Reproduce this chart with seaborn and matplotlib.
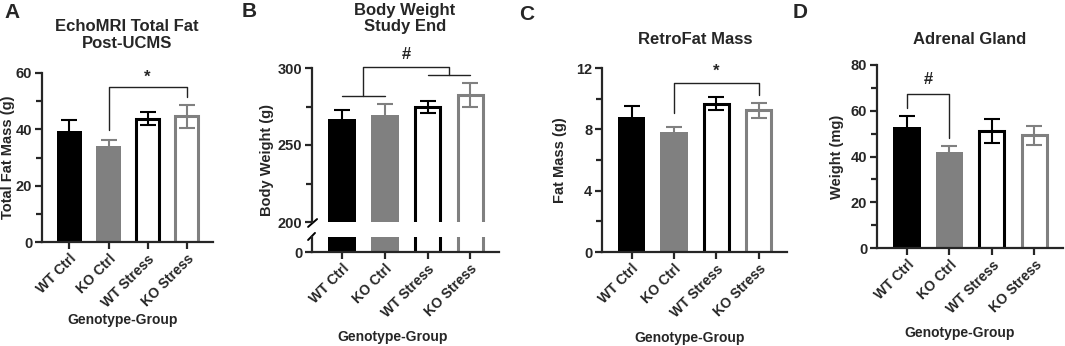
import matplotlib
matplotlib.use("Agg")
import matplotlib.pyplot as plt
import seaborn as sns

# =========================
# Data
# =========================

groups = ["WT Ctrl", "KO Ctrl", "WT Stress", "KO Stress"]
colors = ["black", "#808080", "black", "#808080"]
filled = [True, True, False, False]

fat_total = [39.4, 34.0, 43.7, 44.6]
fat_total_err = [3.8, 2.1, 2.3, 4.2]

body_weight = [267.2, 269.4, 274.8, 282.4]
body_weight_err = [5.3, 7.0, 3.9, 7.6]

retro_fat = [8.80, 7.80, 9.67, 9.24]
retro_fat_err = [0.70, 0.33, 0.44, 0.50]

adrenal = [52.7, 41.9, 51.2, 49.2]
adrenal_err = [4.8, 2.5, 5.1, 4.2]

# brackets: x1, x2, y at x1, y at x2, top, label, label y
bracket_a = [1, 3, 39.6, 51.5, 55.0, "*", 58.5]
bracket_c = [1, 3, 9.07, 10.26, 11.0, "*", 11.8]
bracket_d = [0, 1, 61.1, 48.3, 67.2, "#", 73.5]
bracket_b_left = [0, 1, 281.8]
bracket_b_right = [2, 3, 295.6]
bracket_b_top = [0.5, 2.5, 300.8, "#", 309.0]

sns.set_style("ticks")
plt.rcParams["font.family"] = ["Liberation Sans", "DejaVu Sans"]
plt.rcParams["font.weight"] = "bold"
plt.rcParams["axes.labelweight"] = "bold"

fig = plt.figure(figsize=(10.65, 3.46), dpi=100)

W, H = 1065, 346


def px_axes(left, top, right, bottom):
    return fig.add_axes([left / W, 1 - bottom / H, (right - left) / W, (bottom - top) / H])


def draw_bars(ax, values, errs):
    sns.barplot(x=groups, y=values, hue=groups, palette=colors, width=0.65,
                legend=False, errorbar=None, saturation=1, ax=ax)
    for patch, c, f in zip(ax.patches, colors, filled):
        if f:
            patch.set_facecolor(c)
            patch.set_edgecolor(c)
            patch.set_linewidth(0)
        else:
            patch.set_facecolor("white")
            patch.set_edgecolor(c)
            patch.set_linewidth(2.2)
            x0, w = patch.get_x(), patch.get_width()
            patch.set_x(x0 + 0.03)
            patch.set_width(w - 0.06)
    for i, (v, e, c) in enumerate(zip(values, errs, colors)):
        ax.errorbar(i, v, yerr=e, color=c, capsize=6, elinewidth=1.5,
                    capthick=1.5, zorder=4)


def style_axis(ax, ylim, major, minor, xlabels=True):
    ax.set_ylim(ylim)
    ax.set_xlim(-0.7, 3.67)
    ax.set_yticks(major)
    ax.set_yticks(minor, minor=True)
    sns.despine(ax=ax)
    for s in ["left", "bottom"]:
        ax.spines[s].set_linewidth(1.6)
    ax.tick_params(axis="both", which="major", length=5, width=1.6, labelsize=10.5, pad=2)
    ax.tick_params(axis="y", which="minor", length=4, width=1.6)
    ax.tick_params(axis="x", which="minor", bottom=False)
    ax.set_xticks(range(4))
    if xlabels:
        ax.set_xticklabels(groups, rotation=45, ha="right", rotation_mode="anchor", fontsize=10)
    ax.set_ylabel("")
    ax.set_xlabel("")


def set_labels(ax, xlabel_pos, ylabel, ylabel_pos, label_ax=None):
    label_ax = label_ax or ax
    label_ax.set_xlabel("Genotype-Group", fontsize=10)
    label_ax.xaxis.set_label_coords(*xlabel_pos)
    label_ax.xaxis.label.set_va("center")
    ax.set_ylabel(ylabel, fontsize=10.5)
    ax.yaxis.set_label_coords(*ylabel_pos)
    ax.yaxis.label.set_va("center")


def bracket(ax, x1, x2, y1, y2, top, label, ty):
    ax.plot([x1, x1, x2, x2], [y1, top, top, y2], color="#222222", lw=1, clip_on=False)
    ax.text((x1 + x2) / 2, ty, label, ha="center", va="center", fontsize=12, fontweight="bold")


# Panel A
ax_a = px_axes(42, 73, 213, 242)
draw_bars(ax_a, fat_total, fat_total_err)
style_axis(ax_a, (0, 60), [0, 20, 40, 60], [10, 30, 50])
set_labels(ax_a, (0.47, -0.46), "Total Fat Mass (g)", (-0.2, 0.5))
bracket(ax_a, *bracket_a)

# Panel B (broken axis)
ax_b = px_axes(312, 68, 499, 222)
ax_b0 = px_axes(312, 237, 499, 252)
draw_bars(ax_b, body_weight, body_weight_err)
draw_bars(ax_b0, body_weight, body_weight_err)
style_axis(ax_b, (200, 300), [200, 250, 300], [225, 275], xlabels=False)
ax_b.spines["bottom"].set_visible(False)
ax_b.tick_params(axis="x", bottom=False, labelbottom=False)
style_axis(ax_b0, (0, 10), [0], [])
set_labels(ax_b, (0.43, -5.67), "Body Weight (g)", (-0.24, 0.40), label_ax=ax_b0)
ax_b.plot([-0.021, 0.027], [-0.032, 0.019], transform=ax_b.transAxes,
          color="black", lw=1.4, clip_on=False)
ax_b0.plot([-0.021, 0.016], [0.8, 1.27], transform=ax_b0.transAxes,
           color="black", lw=1.4, clip_on=False)

lx1, lx2, ly = bracket_b_left
rx1, rx2, ry = bracket_b_right
tx1, tx2, ttop, tlabel, tty = bracket_b_top
ax_b.plot([lx1, lx2], [ly, ly], color="#222222", lw=1, clip_on=False)
ax_b.plot([rx1, rx2], [ry, ry], color="#222222", lw=1, clip_on=False)
bracket(ax_b, tx1, tx2, ly, ry, ttop, tlabel, tty)

# Panel C
ax_c = px_axes(602, 68, 787, 252)
draw_bars(ax_c, retro_fat, retro_fat_err)
style_axis(ax_c, (0, 12), [0, 4, 8, 12], [2, 6, 10])
set_labels(ax_c, (0.476, -0.467), "Fat Mass (g)", (-0.227, 0.5))
bracket(ax_c, *bracket_c)

# Panel D
ax_d = px_axes(877, 65, 1063, 248)
draw_bars(ax_d, adrenal, adrenal_err)
style_axis(ax_d, (0, 80), [0, 20, 40, 60, 80], [10, 30, 50, 70])
set_labels(ax_d, (0.446, -0.464), "Weight (mg)", (-0.215, 0.5))
bracket(ax_d, *bracket_d)

# Titles and panel letters
fig.text(127 / W, 1 - 35 / H, "EchoMRI Total Fat\nPost-UCMS", ha="center", va="center",
         fontsize=12, fontweight="bold", linespacing=1.15)
fig.text(405 / W, 1 - 18.5 / H, "Body Weight\nStudy End", ha="center", va="center",
         fontsize=12, fontweight="bold", linespacing=1.15)
fig.text(695 / W, 1 - 39 / H, "RetroFat Mass", ha="center", va="center",
         fontsize=12, fontweight="bold")
fig.text(970 / W, 1 - 39 / H, "Adrenal Gland", ha="center", va="center",
         fontsize=12, fontweight="bold")

for letter, x, y in [("A", 12, 12), ("B", 249, 11.5), ("C", 527, 14), ("D", 800, 12)]:
    fig.text(x / W, 1 - y / H, letter, ha="center", va="center", fontsize=15, fontweight="bold")

fig.savefig("out.png", dpi=100)
